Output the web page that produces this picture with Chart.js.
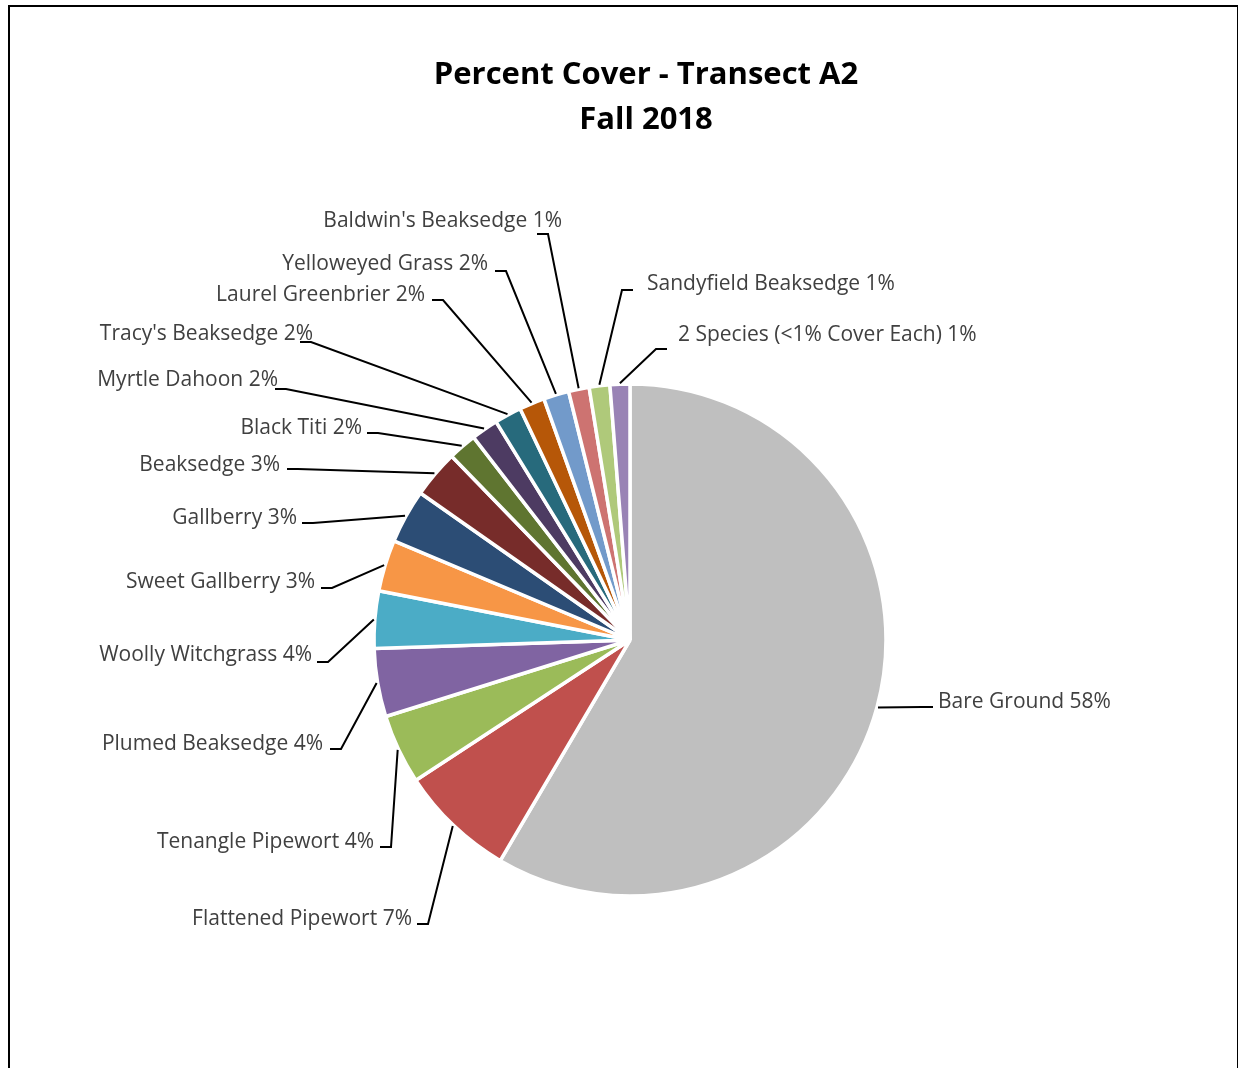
<!DOCTYPE html>
<html lang="en">
  <head>
    <meta charset="UTF-8" />
    <title>Percent Cover - Transect A2</title>
    <script src="https://cdn.jsdelivr.net/npm/chart.js"></script>
    <style>
      body {
        margin: 0;
        background: #fff;
        overflow: hidden;
      }
      .frame {
        position: absolute;
        left: 8px;
        top: 5px;
        width: 1227px;
        height: 1100px;
        border: 2px solid #000;
      }
      #cover-chart {
        position: absolute;
        left: 0;
        top: 0;
      }
    </style>
  </head>
  <body>
    <div class="frame"></div>
    <canvas id="cover-chart" width="1238" height="1068"></canvas>

    <script>
      const titleLines = ["Percent Cover - Transect A2", "Fall 2018"];

      // species, clockwise from 12 o'clock
      const categories = [
        "Bare Ground",
        "Flattened Pipewort",
        "Tenangle Pipewort",
        "Plumed Beaksedge",
        "Woolly Witchgrass",
        "Sweet Gallberry",
        "Gallberry",
        "Beaksedge",
        "Black Titi",
        "Myrtle Dahoon",
        "Tracy's Beaksedge",
        "Laurel Greenbrier",
        "Yelloweyed Grass",
        "Baldwin's Beaksedge",
        "Sandyfield Beaksedge",
        "2 Species (<1% Cover Each)",
      ];
      // percent cover
      const coverValues = [
        58.4, 7.3, 4.4, 4.3, 3.6, 3.25, 3.4, 3.0, 1.8, 1.7, 1.7, 1.6, 1.6, 1.3,
        1.3, 1.25,
      ];

      const sliceColors = [
        "#BFBFBF", "#C0504D", "#9BBB59", "#8064A2", "#4BACC6", "#F79646",
        "#2C4D75", "#772C2A", "#5F7530", "#4D3B62", "#276A7C", "#B65708",
        "#729ACA", "#CD7371", "#AFC97A", "#9983B5",
      ];

      // label placement: [text x, baseline y, leader attach x, attach y]
      const labelLayout = [
        [938, 708, 933, 707],
        [412, 925, 417, 924],
        [374, 848, 380, 847],
        [323, 750, 330, 749],
        [312, 661, 317, 662],
        [315, 588, 321, 588],
        [297, 524, 302, 523],
        [280, 471, 287, 469],
        [362, 434, 367, 433],
        [278, 386, 275, 389],
        [313, 340, 300, 342],
        [425, 301, 432, 300],
        [488, 270, 495, 271],
        [562, 227, 537, 234],
        [647, 290, 633, 290],
        [678, 341, 667, 349],
      ];

      const leaderLabels = {
        id: "leaderLabels",
        afterDraw(chart) {
          const ctx = chart.ctx;
          const meta = chart.getDatasetMeta(0);
          const total = coverValues.reduce((a, b) => a + b, 0);

          ctx.save();
          // title
          ctx.fillStyle = "#000";
          ctx.textAlign = "center";
          ctx.textBaseline = "alphabetic";
          ctx.font = 'bold 31px "Open Sans"';
          titleLines.forEach((line, k) => ctx.fillText(line, 646, 84 + k * 45));

          ctx.font = '21px "Open Sans"';
          ctx.strokeStyle = "#000";
          ctx.lineWidth = 2;
          meta.data.forEach((arc, i) => {
            const p = arc.getProps(["x", "y", "startAngle", "endAngle", "outerRadius"]);
            const mid = (p.startAngle + p.endAngle) / 2;
            const r = p.outerRadius + 1;
            const px = p.x + Math.cos(mid) * r;
            const py = p.y + Math.sin(mid) * r;
            const [tx, ty, ax, ay] = labelLayout[i];
            const onLeft = tx < p.x;
            const elbowX = ax + (onLeft ? 11 : -11);

            ctx.beginPath();
            ctx.moveTo(px, py);
            ctx.lineTo(elbowX, ay);
            ctx.lineTo(ax, ay);
            ctx.stroke();

            const pct = Math.round((coverValues[i] / total) * 100);
            ctx.fillStyle = "#404040";
            ctx.textAlign = onLeft ? "right" : "left";
            ctx.fillText(categories[i] + " " + pct + "%", tx, ty);
          });
          ctx.restore();
        },
      };

      Promise.all([
        document.fonts.load('21px "Open Sans"'),
        document.fonts.load('bold 31px "Open Sans"'),
      ]).finally(() => {
        new Chart(document.getElementById("cover-chart"), {
          type: "pie",
          data: {
            labels: categories,
            datasets: [
              {
                data: coverValues,
                backgroundColor: sliceColors,
                borderColor: "#ffffff",
                borderWidth: 3.5,
              },
            ],
          },
          options: {
            responsive: false,
            animation: false,
            radius: 256,
            layout: {
              padding: { left: 375, right: 353, top: 385, bottom: 173 },
            },
            plugins: {
              legend: { display: false },
              tooltip: { enabled: false },
            },
          },
          plugins: [leaderLabels],
        });
      });
    </script>
  </body>
</html>
